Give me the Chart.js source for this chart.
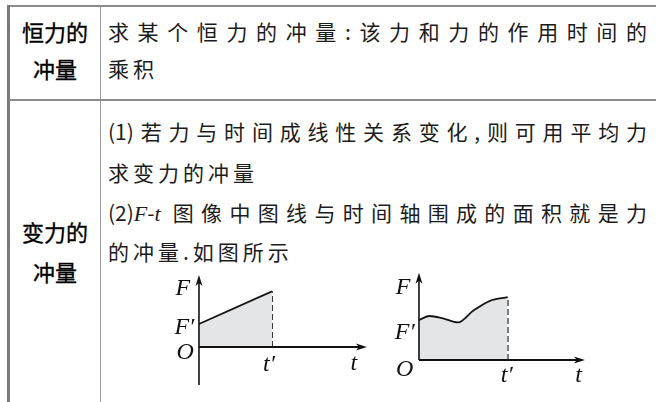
<!DOCTYPE html>
<html>
<head>
<meta charset="utf-8">
<script src="https://cdn.jsdelivr.net/npm/chart.js@4/dist/chart.umd.min.js"></script>
<style>
  html, body { margin:0; padding:0; background:#fff; }
  body { width:656px; height:402px; position:relative; overflow:hidden; }
  .ln { position:absolute; }
  .lbl { position:absolute; left:9px; width:92px; text-align:center; font-family:"Noto Sans CJK SC"; font-size:22px; font-weight:400; line-height:30px; color:#000; white-space:nowrap; -webkit-text-stroke:0.35px #000; }
  .txt { position:absolute; left:108px; font-family:"Noto Sans CJK SC"; font-size:21px; line-height:30px; color:#1c1c1c; white-space:nowrap; letter-spacing:4px; }
  .just { width:539px; text-align:justify; text-align-last:justify; white-space:normal; letter-spacing:0; }
  .it { font-family:"Liberation Serif"; font-style:italic; font-size:22px; }
  canvas { position:absolute; }
</style>
</head>
<body>
<!-- table rules -->
<div class="ln" style="left:7px;top:5px;width:649px;height:2px;background:#8a8a8a"></div>
<div class="ln" style="left:7px;top:5px;width:3px;height:397px;background:#7a7a7a"></div>
<div class="ln" style="left:100px;top:6px;width:1px;height:396px;background:#9a9a9a"></div>
<div class="ln" style="left:9px;top:99px;width:647px;height:1.5px;background:#8a8a8a"></div>

<!-- row 1 -->
<div class="lbl" style="top:16px">恒力的</div>
<div class="lbl" style="top:53px">冲量</div>
<div class="txt just" style="top:16px">求某个恒力的冲量:该力和力的作用时间的</div>
<div class="txt" style="top:53px">乘积</div>

<!-- row 2 -->
<div class="lbl" style="top:216px">变力的</div>
<div class="lbl" style="top:256px">冲量</div>
<div class="txt just" style="top:116px">(1)若力与时间成线性关系变化,则可用平均力</div>
<div class="txt" style="top:157px">求变力的冲量</div>
<div class="txt just" style="top:197px">(2)<span class="it">F</span>-<span class="it">t</span> 图像中图线与时间轴围成的面积就是力</div>
<div class="txt" style="top:236px">的冲量.如图所示</div>

<canvas id="c1" width="205" height="122" style="left:170px;top:270px"></canvas>
<canvas id="c2" width="210" height="124" style="left:385px;top:268px"></canvas>

<script>
// ---- data ----
const linearTimes = [0, 1];
const linearForces = [1, 2.42];
const curveTimes = [0, 0.12, 0.27, 0.44, 0.61, 0.8, 1];
const curveForces = [1.0, 1.1, 1.04, 0.94, 1.23, 1.48, 1.57];
const axisLabels = ['F', 'F\u2032', 'O', 't\u2032', 't'];

const axisPlugin = {
  id: 'ftAxes',
  afterDatasetsDraw(chart, args, o) {
    const ctx = chart.ctx, xs = chart.scales.x, ys = chart.scales.y;
    const ox = xs.getPixelForValue(0), oy = ys.getPixelForValue(0);
    const xe = xs.getPixelForValue(o.xEnd), yt = ys.getPixelForValue(o.yTop), yb = ys.getPixelForValue(o.yBottom);
    ctx.save();
    ctx.strokeStyle = '#111'; ctx.fillStyle = '#111';
    // y axis
    ctx.lineWidth = 1.6;
    ctx.beginPath(); ctx.moveTo(ox, yb); ctx.lineTo(ox, yt + 6); ctx.stroke();
    ctx.beginPath(); ctx.moveTo(ox, yt); ctx.lineTo(ox - 3.5, yt + 11); ctx.lineTo(ox, yt + 8); ctx.lineTo(ox + 3.5, yt + 11); ctx.closePath(); ctx.fill();
    // x axis
    ctx.lineWidth = 2.2;
    ctx.beginPath(); ctx.moveTo(ox, oy); ctx.lineTo(xe - 6, oy); ctx.stroke();
    ctx.beginPath(); ctx.moveTo(xe, oy); ctx.lineTo(xe - 11, oy - 3.5); ctx.lineTo(xe - 8, oy); ctx.lineTo(xe - 11, oy + 3.5); ctx.closePath(); ctx.fill();
    // labels
    ctx.font = 'italic 24px "Liberation Serif"';
    ctx.textAlign = 'center'; ctx.textBaseline = 'middle';
    o.labelPos.forEach((p, i) => {
      ctx.fillText(axisLabels[i], xs.getPixelForValue(p[0]), ys.getPixelForValue(p[1]));
    });
    ctx.restore();
  }
};

function makeChart(id, times, forces, range, axisOpts) {
  const pts = times.map((t, i) => ({x: t, y: forces[i]}));
  const tEnd = times[times.length - 1], fEnd = forces[forces.length - 1];
  return new Chart(document.getElementById(id), {
    type: 'line',
    data: { datasets: [
      { data: pts, borderColor: '#141414', borderWidth: 1.8, backgroundColor: '#e4e5e7', fill: 'origin', pointRadius: 0, cubicInterpolationMode: 'monotone' },
      { data: [{x: tEnd, y: 0}, {x: tEnd, y: fEnd}], borderColor: '#222', borderWidth: 1.8, borderDash: [6, 3], pointRadius: 0, fill: false }
    ]},
    options: {
      responsive: false, animation: false, events: [],
      layout: { padding: 0 },
      plugins: { legend: { display: false }, tooltip: { enabled: false }, ftAxes: axisOpts },
      scales: {
        x: { type: 'linear', display: false, min: range[0], max: range[1] },
        y: { type: 'linear', display: false, min: range[2], max: range[3] }
      }
    },
    plugins: [axisPlugin]
  });
}

makeChart('c1', linearTimes, linearForces, [-0.397, 2.411, -1.957, 3.348], {
  xEnd: 2.3, yTop: 3.13, yBottom: -1.65,
  labelPos: [[-0.22, 2.52], [-0.2, 0.82], [-0.19, -0.26], [0.96, -0.78], [2.12, -0.74]]
});
makeChart('c2', curveTimes, curveForces, [-0.383, 1.984, -0.8, 2.3], {
  xEnd: 1.87, yTop: 2.18, yBottom: 0,
  labelPos: [[-0.18, 1.8], [-0.16, 0.68], [-0.16, -0.25], [0.99, -0.4], [1.8, -0.38]]
});
</script>
</body>
</html>
